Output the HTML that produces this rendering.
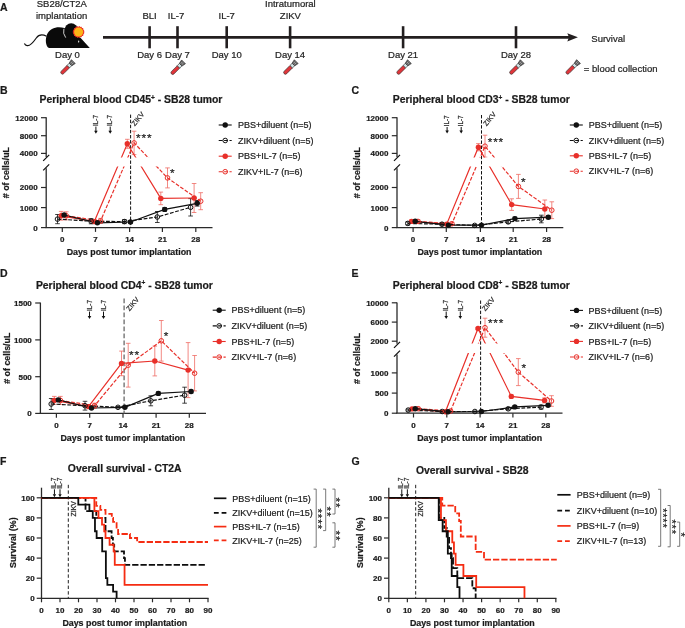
<!DOCTYPE html>
<html><head><meta charset="utf-8"><title>Figure</title>
<style>
html,body{margin:0;padding:0;background:#fff;}
svg{display:block;will-change:transform;}
text{font-family:"Liberation Sans", sans-serif;stroke:#222;stroke-width:0.22px;}
</style></head>
<body>
<svg width="685" height="628" viewBox="0 0 685 628" font-family='"Liberation Sans", sans-serif'>
<rect width="685" height="628" fill="#fff"/>
<line x1="103.00" y1="37.35" x2="569.00" y2="37.35" stroke="#231f20" stroke-width="2.7" />
<path d="M567.3,33.2 L577.9,37.35 L567.3,41.6 L569,37.35 Z" fill="#231f20"/>
<line x1="149.60" y1="26.20" x2="149.60" y2="48.30" stroke="#231f20" stroke-width="2.6" />
<text x="149.60" y="58.30" font-size="9.5" text-anchor="middle" fill="#262626" >Day 6</text>
<line x1="177.50" y1="26.20" x2="177.50" y2="48.30" stroke="#231f20" stroke-width="2.6" />
<text x="177.50" y="58.30" font-size="9.5" text-anchor="middle" fill="#262626" >Day 7</text>
<line x1="226.70" y1="26.20" x2="226.70" y2="48.30" stroke="#231f20" stroke-width="2.6" />
<text x="226.70" y="58.30" font-size="9.5" text-anchor="middle" fill="#262626" >Day 10</text>
<line x1="290.10" y1="26.20" x2="290.10" y2="48.30" stroke="#231f20" stroke-width="2.6" />
<text x="290.10" y="58.30" font-size="9.5" text-anchor="middle" fill="#262626" >Day 14</text>
<line x1="403.10" y1="26.20" x2="403.10" y2="48.30" stroke="#231f20" stroke-width="2.6" />
<text x="403.10" y="58.30" font-size="9.5" text-anchor="middle" fill="#262626" >Day 21</text>
<line x1="516.00" y1="26.20" x2="516.00" y2="48.30" stroke="#231f20" stroke-width="2.6" />
<text x="516.00" y="58.30" font-size="9.5" text-anchor="middle" fill="#262626" >Day 28</text>
<text x="67.50" y="58.30" font-size="9.5" text-anchor="middle" fill="#262626" >Day 0</text>
<text x="149.60" y="18.80" font-size="9.5" text-anchor="middle" fill="#262626" >BLI</text>
<text x="176.00" y="18.80" font-size="9.5" text-anchor="middle" fill="#262626" >IL-7</text>
<text x="226.70" y="18.80" font-size="9.5" text-anchor="middle" fill="#262626" >IL-7</text>
<text x="290.40" y="6.80" font-size="9.5" text-anchor="middle" fill="#262626" >Intratumoral</text>
<text x="290.40" y="18.60" font-size="9.5" text-anchor="middle" fill="#262626" >ZIKV</text>
<text x="61.80" y="7.20" font-size="9.5" text-anchor="middle" fill="#262626" >SB28/CT2A</text>
<text x="61.60" y="18.60" font-size="9.5" text-anchor="middle" fill="#262626" >implantation</text>
<text x="591.30" y="41.60" font-size="9.5" text-anchor="start" fill="#262626" >Survival</text>
<text x="583.80" y="71.60" font-size="9.5" text-anchor="start" fill="#262626" >= blood collection</text>
<g transform="translate(67.40,67.50) rotate(45)"><path d="M-1.75,-1.3 L-1.75,6.9 A1.75,1.75 0 0 0 1.75,6.9 L1.75,-1.3 Z" fill="#e0353a" stroke="#2a2a2a" stroke-width="0.6"/><rect x="-1.75" y="-4.4" width="3.5" height="3.1" fill="#d3e4e6" stroke="#2a2a2a" stroke-width="0.6"/><path d="M-1.9,-4.4 L-2.7,-8.4 L2.7,-8.4 L1.9,-4.4 Z" fill="#5e5e5e" stroke="#2a2a2a" stroke-width="0.6"/><line x1="-0.8" y1="-7.7" x2="-0.7" y2="-5.1" stroke="#cfcfcf" stroke-width="0.6"/><line x1="0.8" y1="-7.7" x2="0.7" y2="-5.1" stroke="#cfcfcf" stroke-width="0.6"/></g>
<g transform="translate(177.60,67.80) rotate(45)"><path d="M-1.75,-1.3 L-1.75,6.9 A1.75,1.75 0 0 0 1.75,6.9 L1.75,-1.3 Z" fill="#e0353a" stroke="#2a2a2a" stroke-width="0.6"/><rect x="-1.75" y="-4.4" width="3.5" height="3.1" fill="#d3e4e6" stroke="#2a2a2a" stroke-width="0.6"/><path d="M-1.9,-4.4 L-2.7,-8.4 L2.7,-8.4 L1.9,-4.4 Z" fill="#5e5e5e" stroke="#2a2a2a" stroke-width="0.6"/><line x1="-0.8" y1="-7.7" x2="-0.7" y2="-5.1" stroke="#cfcfcf" stroke-width="0.6"/><line x1="0.8" y1="-7.7" x2="0.7" y2="-5.1" stroke="#cfcfcf" stroke-width="0.6"/></g>
<g transform="translate(290.30,67.60) rotate(45)"><path d="M-1.75,-1.3 L-1.75,6.9 A1.75,1.75 0 0 0 1.75,6.9 L1.75,-1.3 Z" fill="#e0353a" stroke="#2a2a2a" stroke-width="0.6"/><rect x="-1.75" y="-4.4" width="3.5" height="3.1" fill="#d3e4e6" stroke="#2a2a2a" stroke-width="0.6"/><path d="M-1.9,-4.4 L-2.7,-8.4 L2.7,-8.4 L1.9,-4.4 Z" fill="#5e5e5e" stroke="#2a2a2a" stroke-width="0.6"/><line x1="-0.8" y1="-7.7" x2="-0.7" y2="-5.1" stroke="#cfcfcf" stroke-width="0.6"/><line x1="0.8" y1="-7.7" x2="0.7" y2="-5.1" stroke="#cfcfcf" stroke-width="0.6"/></g>
<g transform="translate(403.50,67.60) rotate(45)"><path d="M-1.75,-1.3 L-1.75,6.9 A1.75,1.75 0 0 0 1.75,6.9 L1.75,-1.3 Z" fill="#e0353a" stroke="#2a2a2a" stroke-width="0.6"/><rect x="-1.75" y="-4.4" width="3.5" height="3.1" fill="#d3e4e6" stroke="#2a2a2a" stroke-width="0.6"/><path d="M-1.9,-4.4 L-2.7,-8.4 L2.7,-8.4 L1.9,-4.4 Z" fill="#5e5e5e" stroke="#2a2a2a" stroke-width="0.6"/><line x1="-0.8" y1="-7.7" x2="-0.7" y2="-5.1" stroke="#cfcfcf" stroke-width="0.6"/><line x1="0.8" y1="-7.7" x2="0.7" y2="-5.1" stroke="#cfcfcf" stroke-width="0.6"/></g>
<g transform="translate(516.30,67.60) rotate(45)"><path d="M-1.75,-1.3 L-1.75,6.9 A1.75,1.75 0 0 0 1.75,6.9 L1.75,-1.3 Z" fill="#e0353a" stroke="#2a2a2a" stroke-width="0.6"/><rect x="-1.75" y="-4.4" width="3.5" height="3.1" fill="#d3e4e6" stroke="#2a2a2a" stroke-width="0.6"/><path d="M-1.9,-4.4 L-2.7,-8.4 L2.7,-8.4 L1.9,-4.4 Z" fill="#5e5e5e" stroke="#2a2a2a" stroke-width="0.6"/><line x1="-0.8" y1="-7.7" x2="-0.7" y2="-5.1" stroke="#cfcfcf" stroke-width="0.6"/><line x1="0.8" y1="-7.7" x2="0.7" y2="-5.1" stroke="#cfcfcf" stroke-width="0.6"/></g>
<g transform="translate(572.60,67.50) rotate(45)"><path d="M-1.75,-1.3 L-1.75,6.9 A1.75,1.75 0 0 0 1.75,6.9 L1.75,-1.3 Z" fill="#e0353a" stroke="#2a2a2a" stroke-width="0.6"/><rect x="-1.75" y="-4.4" width="3.5" height="3.1" fill="#d3e4e6" stroke="#2a2a2a" stroke-width="0.6"/><path d="M-1.9,-4.4 L-2.7,-8.4 L2.7,-8.4 L1.9,-4.4 Z" fill="#5e5e5e" stroke="#2a2a2a" stroke-width="0.6"/><line x1="-0.8" y1="-7.7" x2="-0.7" y2="-5.1" stroke="#cfcfcf" stroke-width="0.6"/><line x1="0.8" y1="-7.7" x2="0.7" y2="-5.1" stroke="#cfcfcf" stroke-width="0.6"/></g>
<path d="M46.5,36.3 C42.5,34.2 38.8,34.6 36.3,38 C33.3,42.3 30.5,46.2 27.2,45.6 C25.8,45.3 25,44.6 24.4,43.4" fill="none" stroke="#111" stroke-width="1.2"/>
<path d="M49,48.1 C45.6,46.5 45,39.5 47,34.6 C49.3,29.5 54,27.3 59,27.3 C63,27.3 66,28.4 68.5,30.2 L80,37.2 L89.8,47.9 Z" fill="#0a0a0a"/>
<circle cx="71.2" cy="29.9" r="6.6" fill="#0a0a0a"/>
<path d="M63.9,28.8 Q62.6,33.6 65.7,37.6" fill="none" stroke="#fff" stroke-width="0.8"/>
<ellipse cx="78.7" cy="41.6" rx="0.55" ry="1.1" fill="#fff"/>
<polygon points="84.70,32.00 83.72,32.90 84.33,34.09 83.10,34.60 83.27,35.92 81.94,35.98 81.65,37.28 80.38,36.89 79.66,38.01 78.60,37.20 77.54,38.01 76.82,36.89 75.55,37.28 75.26,35.98 73.93,35.92 74.10,34.60 72.87,34.09 73.48,32.90 72.50,32.00 73.48,31.10 72.87,29.91 74.10,29.40 73.93,28.08 75.26,28.02 75.55,26.72 76.82,27.11 77.54,25.99 78.60,26.80 79.66,25.99 80.38,27.11 81.65,26.72 81.94,28.02 83.27,28.08 83.10,29.40 84.33,29.91 83.72,31.10" fill="#ee3124"/>
<circle cx="78.6" cy="32.0" r="4.5" fill="#fbb516"/>
<text x="0.00" y="11.40" font-size="10.5" font-weight="bold" text-anchor="start" fill="#1a1a1a" >A</text>
<text x="0.00" y="94.00" font-size="10.5" font-weight="bold" text-anchor="start" fill="#1a1a1a" >B</text>
<text x="351.40" y="94.00" font-size="10.5" font-weight="bold" text-anchor="start" fill="#1a1a1a" >C</text>
<text x="0.00" y="276.60" font-size="10.5" font-weight="bold" text-anchor="start" fill="#1a1a1a" >D</text>
<text x="351.40" y="276.60" font-size="10.5" font-weight="bold" text-anchor="start" fill="#1a1a1a" >E</text>
<text x="0.00" y="464.90" font-size="10.5" font-weight="bold" text-anchor="start" fill="#1a1a1a" >F</text>
<text x="351.40" y="464.90" font-size="10.5" font-weight="bold" text-anchor="start" fill="#1a1a1a" >G</text>
<text x="39.60" y="103.10" font-size="10.4" font-weight="bold" fill="#1a1a1a">Peripheral blood CD45<tspan font-size="6.5" dy="-3.6">+</tspan><tspan dy="3.6"> - SB28 tumor</tspan></text>
<line x1="46.20" y1="117.30" x2="46.20" y2="156.90" stroke="#2a2a2a" stroke-width="1.3" />
<line x1="46.20" y1="168.30" x2="46.20" y2="227.60" stroke="#2a2a2a" stroke-width="1.3" />
<line x1="41.00" y1="117.70" x2="46.20" y2="117.70" stroke="#2a2a2a" stroke-width="1.2" />
<text x="37.60" y="120.60" font-size="8" font-weight="bold" text-anchor="end" fill="#1a1a1a" >12000</text>
<line x1="41.00" y1="135.70" x2="46.20" y2="135.70" stroke="#2a2a2a" stroke-width="1.2" />
<text x="37.60" y="138.60" font-size="8" font-weight="bold" text-anchor="end" fill="#1a1a1a" >8000</text>
<line x1="41.00" y1="153.40" x2="46.20" y2="153.40" stroke="#2a2a2a" stroke-width="1.2" />
<text x="37.60" y="156.30" font-size="8" font-weight="bold" text-anchor="end" fill="#1a1a1a" >4000</text>
<line x1="41.00" y1="187.50" x2="46.20" y2="187.50" stroke="#2a2a2a" stroke-width="1.2" />
<text x="37.60" y="190.40" font-size="8" font-weight="bold" text-anchor="end" fill="#1a1a1a" >2000</text>
<line x1="41.00" y1="207.60" x2="46.20" y2="207.60" stroke="#2a2a2a" stroke-width="1.2" />
<text x="37.60" y="210.50" font-size="8" font-weight="bold" text-anchor="end" fill="#1a1a1a" >1000</text>
<line x1="41.00" y1="227.60" x2="46.20" y2="227.60" stroke="#2a2a2a" stroke-width="1.2" />
<text x="37.60" y="230.50" font-size="8" font-weight="bold" text-anchor="end" fill="#1a1a1a" >0</text>
<line x1="43.20" y1="160.80" x2="49.20" y2="154.80" stroke="#111" stroke-width="1.2" />
<line x1="43.20" y1="170.30" x2="49.20" y2="164.30" stroke="#111" stroke-width="1.2" />
<line x1="45.55" y1="227.60" x2="212.50" y2="227.60" stroke="#2a2a2a" stroke-width="1.3" />
<line x1="62.30" y1="227.60" x2="62.30" y2="231.90" stroke="#2a2a2a" stroke-width="1.2" />
<text x="62.30" y="241.90" font-size="8" font-weight="bold" text-anchor="middle" fill="#1a1a1a" >0</text>
<line x1="95.50" y1="227.60" x2="95.50" y2="231.90" stroke="#2a2a2a" stroke-width="1.2" />
<text x="95.50" y="241.90" font-size="8" font-weight="bold" text-anchor="middle" fill="#1a1a1a" >7</text>
<line x1="129.60" y1="227.60" x2="129.60" y2="231.90" stroke="#2a2a2a" stroke-width="1.2" />
<text x="129.60" y="241.90" font-size="8" font-weight="bold" text-anchor="middle" fill="#1a1a1a" >14</text>
<line x1="162.40" y1="227.60" x2="162.40" y2="231.90" stroke="#2a2a2a" stroke-width="1.2" />
<text x="162.40" y="241.90" font-size="8" font-weight="bold" text-anchor="middle" fill="#1a1a1a" >21</text>
<line x1="195.80" y1="227.60" x2="195.80" y2="231.90" stroke="#2a2a2a" stroke-width="1.2" />
<text x="195.80" y="241.90" font-size="8" font-weight="bold" text-anchor="middle" fill="#1a1a1a" >28</text>
<text x="129.05" y="255.10" font-size="8.85" font-weight="bold" text-anchor="middle" fill="#1a1a1a" >Days post tumor implantation</text>
<text transform="translate(9.40,172.60) rotate(-90)" font-size="8.85" font-weight="bold" text-anchor="middle" fill="#1a1a1a"># of cells/uL</text>
<text transform="translate(98.10,126.00) rotate(-90)" font-size="6.4" text-anchor="start" fill="#222">IL-7</text>
<line x1="95.90" y1="126.60" x2="95.90" y2="131.30" stroke="#111" stroke-width="1.0" />
<path d="M94.10,130.80 L97.70,130.80 L95.90,133.80 Z" fill="#111"/>
<text transform="translate(112.40,126.00) rotate(-90)" font-size="6.4" text-anchor="start" fill="#222">IL-7</text>
<line x1="110.20" y1="126.60" x2="110.20" y2="131.30" stroke="#111" stroke-width="1.0" />
<path d="M108.40,130.80 L112.00,130.80 L110.20,133.80 Z" fill="#111"/>
<line x1="130.60" y1="114.60" x2="130.60" y2="227.60" stroke="#111" stroke-width="1.0" stroke-dasharray="3.4,1.7"/>
<text transform="translate(134.80,126.40) rotate(-50)" font-size="7.0" text-anchor="start" fill="#333">ZIKV</text>
<clipPath id="cB"><rect x="46.2" y="100" width="186.3" height="57.400000000000006"/><rect x="46.2" y="166.6" width="186.3" height="73.4"/></clipPath>
<g clip-path="url(#cB)">
<path d="M61.20,211.40 V220.20 M58.90,211.40 H63.50 M58.90,220.20 H63.50" stroke="#ef6b63" stroke-width="0.8" fill="none"/>
<path d="M94.30,219.60 V223.60 M92.00,219.60 H96.60 M92.00,223.60 H96.60" stroke="#ef6b63" stroke-width="0.8" fill="none"/>
<path d="M127.30,139.30 V148.30 M125.00,139.30 H129.60 M125.00,148.30 H129.60" stroke="#ef6b63" stroke-width="0.8" fill="none"/>
<path d="M160.80,192.10 V204.70 M158.50,192.10 H163.10 M158.50,204.70 H163.10" stroke="#ef6b63" stroke-width="0.8" fill="none"/>
<path d="M194.10,183.50 V212.50 M191.80,183.50 H196.40 M191.80,212.50 H196.40" stroke="#ef6b63" stroke-width="0.8" fill="none"/>
<path d="M66.30,211.80 V219.80 M64.00,211.80 H68.60 M64.00,219.80 H68.60" stroke="#ef6b63" stroke-width="0.8" fill="none"/>
<path d="M100.60,218.40 V223.40 M98.30,218.40 H102.90 M98.30,223.40 H102.90" stroke="#ef6b63" stroke-width="0.8" fill="none"/>
<path d="M134.10,131.20 V154.60 M131.80,131.20 H136.40 M131.80,154.60 H136.40" stroke="#ef6b63" stroke-width="0.8" fill="none"/>
<path d="M167.50,167.90 V187.90 M165.20,167.90 H169.80 M165.20,187.90 H169.80" stroke="#ef6b63" stroke-width="0.8" fill="none"/>
<path d="M200.70,192.70 V209.70 M198.40,192.70 H203.00 M198.40,209.70 H203.00" stroke="#ef6b63" stroke-width="0.8" fill="none"/>
<path d="M57.50,214.50 V223.70 M55.20,214.50 H59.80 M55.20,223.70 H59.80" stroke="#111" stroke-width="0.8" fill="none"/>
<path d="M91.10,218.60 V223.80 M88.80,218.60 H93.40 M88.80,223.80 H93.40" stroke="#111" stroke-width="0.8" fill="none"/>
<path d="M124.40,219.60 V223.60 M122.10,219.60 H126.70 M122.10,223.60 H126.70" stroke="#111" stroke-width="0.8" fill="none"/>
<path d="M157.30,211.50 V222.50 M155.00,211.50 H159.60 M155.00,222.50 H159.60" stroke="#111" stroke-width="0.8" fill="none"/>
<path d="M190.60,198.60 V216.00 M188.30,198.60 H192.90 M188.30,216.00 H192.90" stroke="#111" stroke-width="0.8" fill="none"/>
<path d="M64.10,213.80 V216.20 M61.80,213.80 H66.40 M61.80,216.20 H66.40" stroke="#111" stroke-width="0.8" fill="none"/>
<path d="M97.40,222.00 V223.60 M95.10,222.00 H99.70 M95.10,223.60 H99.70" stroke="#111" stroke-width="0.8" fill="none"/>
<path d="M130.50,220.80 V223.20 M128.20,220.80 H132.80 M128.20,223.20 H132.80" stroke="#111" stroke-width="0.8" fill="none"/>
<path d="M164.70,207.60 V211.20 M162.40,207.60 H167.00 M162.40,211.20 H167.00" stroke="#111" stroke-width="0.8" fill="none"/>
<path d="M197.20,200.50 V206.10 M194.90,200.50 H199.50 M194.90,206.10 H199.50" stroke="#111" stroke-width="0.8" fill="none"/>
<path d="M66.30,215.80 L100.60,220.90 L134.10,142.90 L167.50,177.90 L200.70,201.20" fill="none" stroke="#e8302a" stroke-width="1.2" stroke-dasharray="3.8,1.6"/>
<path d="M61.20,215.80 L94.30,221.60 L127.30,143.80 L160.80,198.40 L194.10,198.00" fill="none" stroke="#e8302a" stroke-width="1.2"/>
<path d="M57.50,219.10 L91.10,221.20 L124.40,221.60 L157.30,217.00 L190.60,207.30" fill="none" stroke="#111" stroke-width="1.2" stroke-dasharray="3.8,1.6"/>
<path d="M64.10,215.00 L97.40,222.80 L130.50,222.00 L164.70,209.40 L197.20,203.30" fill="none" stroke="#111" stroke-width="1.2"/>
</g>
<circle cx="66.30" cy="215.80" r="2.3" fill="none" stroke="#e8302a" stroke-width="1.0"/>
<circle cx="100.60" cy="220.90" r="2.3" fill="none" stroke="#e8302a" stroke-width="1.0"/>
<circle cx="134.10" cy="142.90" r="2.3" fill="none" stroke="#e8302a" stroke-width="1.0"/>
<circle cx="167.50" cy="177.90" r="2.3" fill="none" stroke="#e8302a" stroke-width="1.0"/>
<circle cx="200.70" cy="201.20" r="2.3" fill="none" stroke="#e8302a" stroke-width="1.0"/>
<circle cx="61.20" cy="215.80" r="2.7" fill="#e8302a"/>
<circle cx="94.30" cy="221.60" r="2.7" fill="#e8302a"/>
<circle cx="127.30" cy="143.80" r="2.7" fill="#e8302a"/>
<circle cx="160.80" cy="198.40" r="2.7" fill="#e8302a"/>
<circle cx="194.10" cy="198.00" r="2.7" fill="#e8302a"/>
<circle cx="57.50" cy="219.10" r="2.3" fill="none" stroke="#111" stroke-width="1.0"/>
<circle cx="91.10" cy="221.20" r="2.3" fill="none" stroke="#111" stroke-width="1.0"/>
<circle cx="124.40" cy="221.60" r="2.3" fill="none" stroke="#111" stroke-width="1.0"/>
<circle cx="157.30" cy="217.00" r="2.3" fill="none" stroke="#111" stroke-width="1.0"/>
<circle cx="190.60" cy="207.30" r="2.3" fill="none" stroke="#111" stroke-width="1.0"/>
<circle cx="64.10" cy="215.00" r="2.7" fill="#111"/>
<circle cx="97.40" cy="222.80" r="2.7" fill="#111"/>
<circle cx="130.50" cy="222.00" r="2.7" fill="#111"/>
<circle cx="164.70" cy="209.40" r="2.7" fill="#111"/>
<circle cx="197.20" cy="203.30" r="2.7" fill="#111"/>
<text x="136.10" y="141.90" font-size="11.8" letter-spacing="0.8" fill="#1a1a1a">***</text>
<text x="170.10" y="177.00" font-size="11.8" letter-spacing="0.8" fill="#1a1a1a">*</text>
<line x1="218.70" y1="125.00" x2="231.70" y2="125.00" stroke="#111" stroke-width="1.1" />
<circle cx="225.20" cy="125.00" r="2.7" fill="#111"/>
<text x="238.00" y="128.20" font-size="9" text-anchor="start" fill="#1a1a1a" >PBS+diluent (n=5)</text>
<line x1="218.70" y1="140.50" x2="231.70" y2="140.50" stroke="#111" stroke-width="1.1" stroke-dasharray="3.8,1.6"/>
<circle cx="225.20" cy="140.50" r="2.3" fill="none" stroke="#111" stroke-width="1.0"/>
<text x="238.00" y="143.70" font-size="9" text-anchor="start" fill="#1a1a1a" >ZIKV+diluent (n=5)</text>
<line x1="218.70" y1="156.20" x2="231.70" y2="156.20" stroke="#e8302a" stroke-width="1.1" />
<circle cx="225.20" cy="156.20" r="2.7" fill="#e8302a"/>
<text x="238.00" y="159.40" font-size="9" text-anchor="start" fill="#1a1a1a" >PBS+IL-7 (n=5)</text>
<line x1="218.70" y1="171.70" x2="231.70" y2="171.70" stroke="#e8302a" stroke-width="1.1" stroke-dasharray="3.8,1.6"/>
<circle cx="225.20" cy="171.70" r="2.3" fill="none" stroke="#e8302a" stroke-width="1.0"/>
<text x="238.00" y="174.90" font-size="9" text-anchor="start" fill="#1a1a1a" >ZIKV+IL-7 (n=6)</text>
<text x="392.80" y="103.10" font-size="10.4" font-weight="bold" fill="#1a1a1a">Peripheral blood CD3<tspan font-size="6.5" dy="-3.6">+</tspan><tspan dy="3.6"> - SB28 tumor</tspan></text>
<line x1="397.00" y1="117.30" x2="397.00" y2="156.90" stroke="#2a2a2a" stroke-width="1.3" />
<line x1="397.00" y1="168.30" x2="397.00" y2="227.60" stroke="#2a2a2a" stroke-width="1.3" />
<line x1="391.80" y1="117.70" x2="397.00" y2="117.70" stroke="#2a2a2a" stroke-width="1.2" />
<text x="388.40" y="120.60" font-size="8" font-weight="bold" text-anchor="end" fill="#1a1a1a" >12000</text>
<line x1="391.80" y1="135.70" x2="397.00" y2="135.70" stroke="#2a2a2a" stroke-width="1.2" />
<text x="388.40" y="138.60" font-size="8" font-weight="bold" text-anchor="end" fill="#1a1a1a" >8000</text>
<line x1="391.80" y1="153.40" x2="397.00" y2="153.40" stroke="#2a2a2a" stroke-width="1.2" />
<text x="388.40" y="156.30" font-size="8" font-weight="bold" text-anchor="end" fill="#1a1a1a" >4000</text>
<line x1="391.80" y1="187.50" x2="397.00" y2="187.50" stroke="#2a2a2a" stroke-width="1.2" />
<text x="388.40" y="190.40" font-size="8" font-weight="bold" text-anchor="end" fill="#1a1a1a" >2000</text>
<line x1="391.80" y1="207.60" x2="397.00" y2="207.60" stroke="#2a2a2a" stroke-width="1.2" />
<text x="388.40" y="210.50" font-size="8" font-weight="bold" text-anchor="end" fill="#1a1a1a" >1000</text>
<line x1="391.80" y1="227.60" x2="397.00" y2="227.60" stroke="#2a2a2a" stroke-width="1.2" />
<text x="388.40" y="230.50" font-size="8" font-weight="bold" text-anchor="end" fill="#1a1a1a" >0</text>
<line x1="394.00" y1="160.80" x2="400.00" y2="154.80" stroke="#111" stroke-width="1.2" />
<line x1="394.00" y1="170.30" x2="400.00" y2="164.30" stroke="#111" stroke-width="1.2" />
<line x1="396.35" y1="227.60" x2="563.30" y2="227.60" stroke="#2a2a2a" stroke-width="1.3" />
<line x1="413.10" y1="227.60" x2="413.10" y2="231.90" stroke="#2a2a2a" stroke-width="1.2" />
<text x="413.10" y="241.90" font-size="8" font-weight="bold" text-anchor="middle" fill="#1a1a1a" >0</text>
<line x1="446.30" y1="227.60" x2="446.30" y2="231.90" stroke="#2a2a2a" stroke-width="1.2" />
<text x="446.30" y="241.90" font-size="8" font-weight="bold" text-anchor="middle" fill="#1a1a1a" >7</text>
<line x1="480.40" y1="227.60" x2="480.40" y2="231.90" stroke="#2a2a2a" stroke-width="1.2" />
<text x="480.40" y="241.90" font-size="8" font-weight="bold" text-anchor="middle" fill="#1a1a1a" >14</text>
<line x1="513.20" y1="227.60" x2="513.20" y2="231.90" stroke="#2a2a2a" stroke-width="1.2" />
<text x="513.20" y="241.90" font-size="8" font-weight="bold" text-anchor="middle" fill="#1a1a1a" >21</text>
<line x1="546.60" y1="227.60" x2="546.60" y2="231.90" stroke="#2a2a2a" stroke-width="1.2" />
<text x="546.60" y="241.90" font-size="8" font-weight="bold" text-anchor="middle" fill="#1a1a1a" >28</text>
<text x="479.85" y="255.10" font-size="8.85" font-weight="bold" text-anchor="middle" fill="#1a1a1a" >Days post tumor implantation</text>
<text transform="translate(360.20,172.60) rotate(-90)" font-size="8.85" font-weight="bold" text-anchor="middle" fill="#1a1a1a"># of cells/uL</text>
<text transform="translate(449.30,126.40) rotate(-90)" font-size="6.4" text-anchor="start" fill="#222">IL-7</text>
<line x1="447.10" y1="127.00" x2="447.10" y2="131.10" stroke="#111" stroke-width="1.0" />
<path d="M445.30,130.60 L448.90,130.60 L447.10,133.60 Z" fill="#111"/>
<text transform="translate(463.40,126.40) rotate(-90)" font-size="6.4" text-anchor="start" fill="#222">IL-7</text>
<line x1="461.20" y1="127.00" x2="461.20" y2="131.10" stroke="#111" stroke-width="1.0" />
<path d="M459.40,130.60 L463.00,130.60 L461.20,133.60 Z" fill="#111"/>
<line x1="481.50" y1="115.00" x2="481.50" y2="227.60" stroke="#111" stroke-width="1.0" stroke-dasharray="3.4,1.7"/>
<text transform="translate(486.60,126.40) rotate(-50)" font-size="7.0" text-anchor="start" fill="#333">ZIKV</text>
<clipPath id="cC"><rect x="397.0" y="100" width="186.29999999999995" height="57.400000000000006"/><rect x="397.0" y="166.6" width="186.29999999999995" height="73.4"/></clipPath>
<g clip-path="url(#cC)">
<path d="M411.50,219.90 V222.90 M409.20,219.90 H413.80 M409.20,222.90 H413.80" stroke="#ef6b63" stroke-width="0.8" fill="none"/>
<path d="M446.70,223.20 V225.20 M444.40,223.20 H449.00 M444.40,225.20 H449.00" stroke="#ef6b63" stroke-width="0.8" fill="none"/>
<path d="M478.40,143.60 V150.80 M476.10,143.60 H480.70 M476.10,150.80 H480.70" stroke="#ef6b63" stroke-width="0.8" fill="none"/>
<path d="M511.70,198.80 V210.40 M509.40,198.80 H514.00 M509.40,210.40 H514.00" stroke="#ef6b63" stroke-width="0.8" fill="none"/>
<path d="M544.80,200.00 V218.00 M542.50,200.00 H547.10 M542.50,218.00 H547.10" stroke="#ef6b63" stroke-width="0.8" fill="none"/>
<path d="M418.00,219.90 V222.90 M415.70,219.90 H420.30 M415.70,222.90 H420.30" stroke="#ef6b63" stroke-width="0.8" fill="none"/>
<path d="M451.90,222.20 V225.20 M449.60,222.20 H454.20 M449.60,225.20 H454.20" stroke="#ef6b63" stroke-width="0.8" fill="none"/>
<path d="M485.00,135.20 V157.20 M482.70,135.20 H487.30 M482.70,157.20 H487.30" stroke="#ef6b63" stroke-width="0.8" fill="none"/>
<path d="M518.40,174.40 V198.40 M516.10,174.40 H520.70 M516.10,198.40 H520.70" stroke="#ef6b63" stroke-width="0.8" fill="none"/>
<path d="M551.80,201.80 V218.60 M549.50,201.80 H554.10 M549.50,218.60 H554.10" stroke="#ef6b63" stroke-width="0.8" fill="none"/>
<path d="M407.80,221.90 V224.90 M405.50,221.90 H410.10 M405.50,224.90 H410.10" stroke="#111" stroke-width="0.8" fill="none"/>
<path d="M442.00,222.70 V225.70 M439.70,222.70 H444.30 M439.70,225.70 H444.30" stroke="#111" stroke-width="0.8" fill="none"/>
<path d="M474.70,224.60 V226.20 M472.40,224.60 H477.00 M472.40,226.20 H477.00" stroke="#111" stroke-width="0.8" fill="none"/>
<path d="M508.20,220.40 V223.40 M505.90,220.40 H510.50 M505.90,223.40 H510.50" stroke="#111" stroke-width="0.8" fill="none"/>
<path d="M541.30,215.20 V222.80 M539.00,215.20 H543.60 M539.00,222.80 H543.60" stroke="#111" stroke-width="0.8" fill="none"/>
<path d="M415.20,220.50 V222.10 M412.90,220.50 H417.50 M412.90,222.10 H417.50" stroke="#111" stroke-width="0.8" fill="none"/>
<path d="M448.40,224.50 V225.70 M446.10,224.50 H450.70 M446.10,225.70 H450.70" stroke="#111" stroke-width="0.8" fill="none"/>
<path d="M481.50,224.50 V225.70 M479.20,224.50 H483.80 M479.20,225.70 H483.80" stroke="#111" stroke-width="0.8" fill="none"/>
<path d="M514.90,217.10 V220.10 M512.60,217.10 H517.20 M512.60,220.10 H517.20" stroke="#111" stroke-width="0.8" fill="none"/>
<path d="M548.30,215.70 V218.70 M546.00,215.70 H550.60 M546.00,218.70 H550.60" stroke="#111" stroke-width="0.8" fill="none"/>
<path d="M418.00,221.40 L451.90,223.70 L485.00,146.20 L518.40,186.40 L551.80,210.20" fill="none" stroke="#e8302a" stroke-width="1.2" stroke-dasharray="3.8,1.6"/>
<path d="M411.50,221.40 L446.70,224.20 L478.40,147.20 L511.70,204.60 L544.80,209.00" fill="none" stroke="#e8302a" stroke-width="1.2"/>
<path d="M407.80,223.40 L442.00,224.20 L474.70,225.40 L508.20,221.90 L541.30,219.00" fill="none" stroke="#111" stroke-width="1.2" stroke-dasharray="3.8,1.6"/>
<path d="M415.20,221.30 L448.40,225.10 L481.50,225.10 L514.90,218.60 L548.30,217.20" fill="none" stroke="#111" stroke-width="1.2"/>
</g>
<circle cx="418.00" cy="221.40" r="2.3" fill="none" stroke="#e8302a" stroke-width="1.0"/>
<circle cx="451.90" cy="223.70" r="2.3" fill="none" stroke="#e8302a" stroke-width="1.0"/>
<circle cx="485.00" cy="146.20" r="2.3" fill="none" stroke="#e8302a" stroke-width="1.0"/>
<circle cx="518.40" cy="186.40" r="2.3" fill="none" stroke="#e8302a" stroke-width="1.0"/>
<circle cx="551.80" cy="210.20" r="2.3" fill="none" stroke="#e8302a" stroke-width="1.0"/>
<circle cx="411.50" cy="221.40" r="2.7" fill="#e8302a"/>
<circle cx="446.70" cy="224.20" r="2.7" fill="#e8302a"/>
<circle cx="478.40" cy="147.20" r="2.7" fill="#e8302a"/>
<circle cx="511.70" cy="204.60" r="2.7" fill="#e8302a"/>
<circle cx="544.80" cy="209.00" r="2.7" fill="#e8302a"/>
<circle cx="407.80" cy="223.40" r="2.3" fill="none" stroke="#111" stroke-width="1.0"/>
<circle cx="442.00" cy="224.20" r="2.3" fill="none" stroke="#111" stroke-width="1.0"/>
<circle cx="474.70" cy="225.40" r="2.3" fill="none" stroke="#111" stroke-width="1.0"/>
<circle cx="508.20" cy="221.90" r="2.3" fill="none" stroke="#111" stroke-width="1.0"/>
<circle cx="541.30" cy="219.00" r="2.3" fill="none" stroke="#111" stroke-width="1.0"/>
<circle cx="415.20" cy="221.30" r="2.7" fill="#111"/>
<circle cx="448.40" cy="225.10" r="2.7" fill="#111"/>
<circle cx="481.50" cy="225.10" r="2.7" fill="#111"/>
<circle cx="514.90" cy="218.60" r="2.7" fill="#111"/>
<circle cx="548.30" cy="217.20" r="2.7" fill="#111"/>
<text x="487.80" y="146.05" font-size="11.8" letter-spacing="0.8" fill="#1a1a1a">***</text>
<text x="520.90" y="185.70" font-size="11.8" letter-spacing="0.8" fill="#1a1a1a">*</text>
<line x1="569.80" y1="125.00" x2="582.80" y2="125.00" stroke="#111" stroke-width="1.1" />
<circle cx="576.30" cy="125.00" r="2.7" fill="#111"/>
<text x="588.70" y="128.20" font-size="9" text-anchor="start" fill="#1a1a1a" >PBS+diluent (n=5)</text>
<line x1="569.80" y1="140.50" x2="582.80" y2="140.50" stroke="#111" stroke-width="1.1" stroke-dasharray="3.8,1.6"/>
<circle cx="576.30" cy="140.50" r="2.3" fill="none" stroke="#111" stroke-width="1.0"/>
<text x="588.70" y="143.70" font-size="9" text-anchor="start" fill="#1a1a1a" >ZIKV+diluent (n=5)</text>
<line x1="569.80" y1="155.80" x2="582.80" y2="155.80" stroke="#e8302a" stroke-width="1.1" />
<circle cx="576.30" cy="155.80" r="2.7" fill="#e8302a"/>
<text x="588.70" y="159.00" font-size="9" text-anchor="start" fill="#1a1a1a" >PBS+IL-7 (n=5)</text>
<line x1="569.80" y1="171.20" x2="582.80" y2="171.20" stroke="#e8302a" stroke-width="1.1" stroke-dasharray="3.8,1.6"/>
<circle cx="576.30" cy="171.20" r="2.3" fill="none" stroke="#e8302a" stroke-width="1.0"/>
<text x="588.70" y="174.40" font-size="9" text-anchor="start" fill="#1a1a1a" >ZIKV+IL-7 (n=6)</text>
<text x="35.90" y="288.90" font-size="10.4" font-weight="bold" fill="#1a1a1a">Peripheral blood CD4<tspan font-size="6.5" dy="-3.6">+</tspan><tspan dy="3.6"> - SB28 tumor</tspan></text>
<line x1="40.40" y1="302.60" x2="40.40" y2="413.40" stroke="#2a2a2a" stroke-width="1.3" />
<line x1="35.20" y1="303.00" x2="40.40" y2="303.00" stroke="#2a2a2a" stroke-width="1.2" />
<text x="31.80" y="305.90" font-size="8" font-weight="bold" text-anchor="end" fill="#1a1a1a" >1500</text>
<line x1="35.20" y1="339.90" x2="40.40" y2="339.90" stroke="#2a2a2a" stroke-width="1.2" />
<text x="31.80" y="342.80" font-size="8" font-weight="bold" text-anchor="end" fill="#1a1a1a" >1000</text>
<line x1="35.20" y1="376.70" x2="40.40" y2="376.70" stroke="#2a2a2a" stroke-width="1.2" />
<text x="31.80" y="379.60" font-size="8" font-weight="bold" text-anchor="end" fill="#1a1a1a" >500</text>
<line x1="35.20" y1="413.40" x2="40.40" y2="413.40" stroke="#2a2a2a" stroke-width="1.2" />
<text x="31.80" y="416.30" font-size="8" font-weight="bold" text-anchor="end" fill="#1a1a1a" >0</text>
<line x1="39.75" y1="413.40" x2="206.00" y2="413.40" stroke="#2a2a2a" stroke-width="1.3" />
<line x1="56.40" y1="413.40" x2="56.40" y2="417.70" stroke="#2a2a2a" stroke-width="1.2" />
<text x="56.40" y="427.70" font-size="8" font-weight="bold" text-anchor="middle" fill="#1a1a1a" >0</text>
<line x1="89.70" y1="413.40" x2="89.70" y2="417.70" stroke="#2a2a2a" stroke-width="1.2" />
<text x="89.70" y="427.70" font-size="8" font-weight="bold" text-anchor="middle" fill="#1a1a1a" >7</text>
<line x1="123.00" y1="413.40" x2="123.00" y2="417.70" stroke="#2a2a2a" stroke-width="1.2" />
<text x="123.00" y="427.70" font-size="8" font-weight="bold" text-anchor="middle" fill="#1a1a1a" >14</text>
<line x1="156.10" y1="413.40" x2="156.10" y2="417.70" stroke="#2a2a2a" stroke-width="1.2" />
<text x="156.10" y="427.70" font-size="8" font-weight="bold" text-anchor="middle" fill="#1a1a1a" >21</text>
<line x1="189.30" y1="413.40" x2="189.30" y2="417.70" stroke="#2a2a2a" stroke-width="1.2" />
<text x="189.30" y="427.70" font-size="8" font-weight="bold" text-anchor="middle" fill="#1a1a1a" >28</text>
<text x="122.85" y="440.90" font-size="8.85" font-weight="bold" text-anchor="middle" fill="#1a1a1a" >Days post tumor implantation</text>
<text transform="translate(9.60,358.20) rotate(-90)" font-size="8.85" font-weight="bold" text-anchor="middle" fill="#1a1a1a"># of cells/uL</text>
<text transform="translate(91.70,311.00) rotate(-90)" font-size="6.4" text-anchor="start" fill="#222">IL-7</text>
<line x1="89.50" y1="311.60" x2="89.50" y2="316.40" stroke="#111" stroke-width="1.0" />
<path d="M87.70,315.90 L91.30,315.90 L89.50,318.90 Z" fill="#111"/>
<text transform="translate(105.70,311.00) rotate(-90)" font-size="6.4" text-anchor="start" fill="#222">IL-7</text>
<line x1="103.50" y1="311.60" x2="103.50" y2="316.40" stroke="#111" stroke-width="1.0" />
<path d="M101.70,315.90 L105.30,315.90 L103.50,318.90 Z" fill="#111"/>
<line x1="124.10" y1="298.60" x2="124.10" y2="413.40" stroke="#6a6a6a" stroke-width="1.3" stroke-dasharray="4.6,2.4"/>
<text transform="translate(129.60,311.60) rotate(-50)" font-size="7.0" text-anchor="start" fill="#333">ZIKV</text>
<g >
<path d="M54.30,396.40 V404.40 M52.00,396.40 H56.60 M52.00,404.40 H56.60" stroke="#ef6b63" stroke-width="0.8" fill="none"/>
<path d="M88.50,404.60 V408.60 M86.20,404.60 H90.80 M86.20,408.60 H90.80" stroke="#ef6b63" stroke-width="0.8" fill="none"/>
<path d="M121.50,351.10 V375.70 M119.20,351.10 H123.80 M119.20,375.70 H123.80" stroke="#ef6b63" stroke-width="0.8" fill="none"/>
<path d="M154.80,346.10 V375.90 M152.50,346.10 H157.10 M152.50,375.90 H157.10" stroke="#ef6b63" stroke-width="0.8" fill="none"/>
<path d="M188.10,342.60 V397.60 M185.80,342.60 H190.40 M185.80,397.60 H190.40" stroke="#ef6b63" stroke-width="0.8" fill="none"/>
<path d="M60.40,396.40 V404.40 M58.10,396.40 H62.70 M58.10,404.40 H62.70" stroke="#ef6b63" stroke-width="0.8" fill="none"/>
<path d="M94.60,403.20 V408.20 M92.30,403.20 H96.90 M92.30,408.20 H96.90" stroke="#ef6b63" stroke-width="0.8" fill="none"/>
<path d="M128.20,343.30 V387.10 M125.90,343.30 H130.50 M125.90,387.10 H130.50" stroke="#ef6b63" stroke-width="0.8" fill="none"/>
<path d="M161.30,320.50 V361.10 M159.00,320.50 H163.60 M159.00,361.10 H163.60" stroke="#ef6b63" stroke-width="0.8" fill="none"/>
<path d="M194.60,355.50 V390.90 M192.30,355.50 H196.90 M192.30,390.90 H196.90" stroke="#ef6b63" stroke-width="0.8" fill="none"/>
<path d="M51.20,398.50 V409.50 M48.90,398.50 H53.50 M48.90,409.50 H53.50" stroke="#111" stroke-width="0.8" fill="none"/>
<path d="M85.00,401.30 V410.10 M82.70,401.30 H87.30 M82.70,410.10 H87.30" stroke="#111" stroke-width="0.8" fill="none"/>
<path d="M118.00,406.50 V408.10 M115.70,406.50 H120.30 M115.70,408.10 H120.30" stroke="#111" stroke-width="0.8" fill="none"/>
<path d="M150.80,395.80 V405.80 M148.50,395.80 H153.10 M148.50,405.80 H153.10" stroke="#111" stroke-width="0.8" fill="none"/>
<path d="M184.60,387.20 V403.20 M182.30,387.20 H186.90 M182.30,403.20 H186.90" stroke="#111" stroke-width="0.8" fill="none"/>
<path d="M58.30,398.40 V401.40 M56.00,398.40 H60.60 M56.00,401.40 H60.60" stroke="#111" stroke-width="0.8" fill="none"/>
<path d="M91.50,407.20 V408.80 M89.20,407.20 H93.80 M89.20,408.80 H93.80" stroke="#111" stroke-width="0.8" fill="none"/>
<path d="M124.90,406.50 V408.10 M122.60,406.50 H127.20 M122.60,408.10 H127.20" stroke="#111" stroke-width="0.8" fill="none"/>
<path d="M158.30,391.90 V394.90 M156.00,391.90 H160.60 M156.00,394.90 H160.60" stroke="#111" stroke-width="0.8" fill="none"/>
<path d="M191.10,390.00 V393.00 M188.80,390.00 H193.40 M188.80,393.00 H193.40" stroke="#111" stroke-width="0.8" fill="none"/>
<path d="M60.40,400.40 L94.60,405.70 L128.20,365.20 L161.30,340.80 L194.60,373.20" fill="none" stroke="#e8302a" stroke-width="1.2" stroke-dasharray="3.8,1.6"/>
<path d="M54.30,400.40 L88.50,406.60 L121.50,363.40 L154.80,361.00 L188.10,370.10" fill="none" stroke="#e8302a" stroke-width="1.2"/>
<path d="M51.20,404.00 L85.00,405.70 L118.00,407.30 L150.80,400.80 L184.60,395.20" fill="none" stroke="#111" stroke-width="1.2" stroke-dasharray="3.8,1.6"/>
<path d="M58.30,399.90 L91.50,408.00 L124.90,407.30 L158.30,393.40 L191.10,391.50" fill="none" stroke="#111" stroke-width="1.2"/>
</g>
<circle cx="60.40" cy="400.40" r="2.3" fill="none" stroke="#e8302a" stroke-width="1.0"/>
<circle cx="94.60" cy="405.70" r="2.3" fill="none" stroke="#e8302a" stroke-width="1.0"/>
<circle cx="128.20" cy="365.20" r="2.3" fill="none" stroke="#e8302a" stroke-width="1.0"/>
<circle cx="161.30" cy="340.80" r="2.3" fill="none" stroke="#e8302a" stroke-width="1.0"/>
<circle cx="194.60" cy="373.20" r="2.3" fill="none" stroke="#e8302a" stroke-width="1.0"/>
<circle cx="54.30" cy="400.40" r="2.7" fill="#e8302a"/>
<circle cx="88.50" cy="406.60" r="2.7" fill="#e8302a"/>
<circle cx="121.50" cy="363.40" r="2.7" fill="#e8302a"/>
<circle cx="154.80" cy="361.00" r="2.7" fill="#e8302a"/>
<circle cx="188.10" cy="370.10" r="2.7" fill="#e8302a"/>
<circle cx="51.20" cy="404.00" r="2.3" fill="none" stroke="#111" stroke-width="1.0"/>
<circle cx="85.00" cy="405.70" r="2.3" fill="none" stroke="#111" stroke-width="1.0"/>
<circle cx="118.00" cy="407.30" r="2.3" fill="none" stroke="#111" stroke-width="1.0"/>
<circle cx="150.80" cy="400.80" r="2.3" fill="none" stroke="#111" stroke-width="1.0"/>
<circle cx="184.60" cy="395.20" r="2.3" fill="none" stroke="#111" stroke-width="1.0"/>
<circle cx="58.30" cy="399.90" r="2.7" fill="#111"/>
<circle cx="91.50" cy="408.00" r="2.7" fill="#111"/>
<circle cx="124.90" cy="407.30" r="2.7" fill="#111"/>
<circle cx="158.30" cy="393.40" r="2.7" fill="#111"/>
<circle cx="191.10" cy="391.50" r="2.7" fill="#111"/>
<text x="129.00" y="359.10" font-size="11.8" letter-spacing="0.8" fill="#1a1a1a">**</text>
<text x="163.80" y="340.30" font-size="11.8" letter-spacing="0.8" fill="#1a1a1a">*</text>
<line x1="212.70" y1="310.20" x2="225.70" y2="310.20" stroke="#111" stroke-width="1.1" />
<circle cx="219.20" cy="310.20" r="2.7" fill="#111"/>
<text x="231.60" y="313.40" font-size="9" text-anchor="start" fill="#1a1a1a" >PBS+diluent (n=5)</text>
<line x1="212.70" y1="325.90" x2="225.70" y2="325.90" stroke="#111" stroke-width="1.1" stroke-dasharray="3.8,1.6"/>
<circle cx="219.20" cy="325.90" r="2.3" fill="none" stroke="#111" stroke-width="1.0"/>
<text x="231.60" y="329.10" font-size="9" text-anchor="start" fill="#1a1a1a" >ZIKV+diluent (n=5)</text>
<line x1="212.70" y1="341.50" x2="225.70" y2="341.50" stroke="#e8302a" stroke-width="1.1" />
<circle cx="219.20" cy="341.50" r="2.7" fill="#e8302a"/>
<text x="231.60" y="344.70" font-size="9" text-anchor="start" fill="#1a1a1a" >PBS+IL-7 (n=5)</text>
<line x1="212.70" y1="357.10" x2="225.70" y2="357.10" stroke="#e8302a" stroke-width="1.1" stroke-dasharray="3.8,1.6"/>
<circle cx="219.20" cy="357.10" r="2.3" fill="none" stroke="#e8302a" stroke-width="1.0"/>
<text x="231.60" y="360.30" font-size="9" text-anchor="start" fill="#1a1a1a" >ZIKV+IL-7 (n=6)</text>
<text x="392.80" y="288.90" font-size="10.4" font-weight="bold" fill="#1a1a1a">Peripheral blood CD8<tspan font-size="6.5" dy="-3.6">+</tspan><tspan dy="3.6"> - SB28 tumor</tspan></text>
<line x1="397.00" y1="302.60" x2="397.00" y2="343.80" stroke="#2a2a2a" stroke-width="1.3" />
<line x1="397.00" y1="354.60" x2="397.00" y2="413.20" stroke="#2a2a2a" stroke-width="1.3" />
<line x1="391.80" y1="302.80" x2="397.00" y2="302.80" stroke="#2a2a2a" stroke-width="1.2" />
<text x="388.40" y="305.70" font-size="8" font-weight="bold" text-anchor="end" fill="#1a1a1a" >10000</text>
<line x1="391.80" y1="322.10" x2="397.00" y2="322.10" stroke="#2a2a2a" stroke-width="1.2" />
<text x="388.40" y="325.00" font-size="8" font-weight="bold" text-anchor="end" fill="#1a1a1a" >6000</text>
<line x1="391.80" y1="341.20" x2="397.00" y2="341.20" stroke="#2a2a2a" stroke-width="1.2" />
<text x="388.40" y="344.10" font-size="8" font-weight="bold" text-anchor="end" fill="#1a1a1a" >2000</text>
<line x1="391.80" y1="372.90" x2="397.00" y2="372.90" stroke="#2a2a2a" stroke-width="1.2" />
<text x="388.40" y="375.80" font-size="8" font-weight="bold" text-anchor="end" fill="#1a1a1a" >1000</text>
<line x1="391.80" y1="393.10" x2="397.00" y2="393.10" stroke="#2a2a2a" stroke-width="1.2" />
<text x="388.40" y="396.00" font-size="8" font-weight="bold" text-anchor="end" fill="#1a1a1a" >500</text>
<line x1="391.80" y1="413.20" x2="397.00" y2="413.20" stroke="#2a2a2a" stroke-width="1.2" />
<text x="388.40" y="416.10" font-size="8" font-weight="bold" text-anchor="end" fill="#1a1a1a" >0</text>
<line x1="394.00" y1="347.80" x2="400.00" y2="341.80" stroke="#111" stroke-width="1.2" />
<line x1="394.00" y1="356.60" x2="400.00" y2="350.60" stroke="#111" stroke-width="1.2" />
<line x1="396.35" y1="413.20" x2="562.50" y2="413.20" stroke="#2a2a2a" stroke-width="1.3" />
<line x1="413.50" y1="413.20" x2="413.50" y2="417.50" stroke="#2a2a2a" stroke-width="1.2" />
<text x="413.50" y="427.50" font-size="8" font-weight="bold" text-anchor="middle" fill="#1a1a1a" >0</text>
<line x1="446.80" y1="413.20" x2="446.80" y2="417.50" stroke="#2a2a2a" stroke-width="1.2" />
<text x="446.80" y="427.50" font-size="8" font-weight="bold" text-anchor="middle" fill="#1a1a1a" >7</text>
<line x1="480.10" y1="413.20" x2="480.10" y2="417.50" stroke="#2a2a2a" stroke-width="1.2" />
<text x="480.10" y="427.50" font-size="8" font-weight="bold" text-anchor="middle" fill="#1a1a1a" >14</text>
<line x1="512.90" y1="413.20" x2="512.90" y2="417.50" stroke="#2a2a2a" stroke-width="1.2" />
<text x="512.90" y="427.50" font-size="8" font-weight="bold" text-anchor="middle" fill="#1a1a1a" >21</text>
<line x1="545.80" y1="413.20" x2="545.80" y2="417.50" stroke="#2a2a2a" stroke-width="1.2" />
<text x="545.80" y="427.50" font-size="8" font-weight="bold" text-anchor="middle" fill="#1a1a1a" >28</text>
<text x="479.65" y="440.70" font-size="8.85" font-weight="bold" text-anchor="middle" fill="#1a1a1a" >Days post tumor implantation</text>
<text transform="translate(360.40,358.50) rotate(-90)" font-size="8.85" font-weight="bold" text-anchor="middle" fill="#1a1a1a"># of cells/uL</text>
<text transform="translate(448.40,311.00) rotate(-90)" font-size="6.4" text-anchor="start" fill="#222">IL-7</text>
<line x1="446.20" y1="311.60" x2="446.20" y2="316.40" stroke="#111" stroke-width="1.0" />
<path d="M444.40,315.90 L448.00,315.90 L446.20,318.90 Z" fill="#111"/>
<text transform="translate(462.50,311.00) rotate(-90)" font-size="6.4" text-anchor="start" fill="#222">IL-7</text>
<line x1="460.30" y1="311.60" x2="460.30" y2="316.40" stroke="#111" stroke-width="1.0" />
<path d="M458.50,315.90 L462.10,315.90 L460.30,318.90 Z" fill="#111"/>
<line x1="480.60" y1="300.50" x2="480.60" y2="413.20" stroke="#111" stroke-width="1.0" stroke-dasharray="3.4,1.7"/>
<text transform="translate(485.20,311.60) rotate(-50)" font-size="7.0" text-anchor="start" fill="#333">ZIKV</text>
<clipPath id="cE"><rect x="397.0" y="290" width="185.5" height="53.60000000000002"/><rect x="397.0" y="353.0" width="185.5" height="77.0"/></clipPath>
<g clip-path="url(#cE)">
<path d="M412.10,407.40 V410.40 M409.80,407.40 H414.40 M409.80,410.40 H414.40" stroke="#ef6b63" stroke-width="0.8" fill="none"/>
<path d="M445.40,411.00 V412.60 M443.10,411.00 H447.70 M443.10,412.60 H447.70" stroke="#ef6b63" stroke-width="0.8" fill="none"/>
<path d="M478.00,327.50 V329.50 M475.70,327.50 H480.30 M475.70,329.50 H480.30" stroke="#ef6b63" stroke-width="0.8" fill="none"/>
<path d="M511.30,394.90 V397.90 M509.00,394.90 H513.60 M509.00,397.90 H513.60" stroke="#ef6b63" stroke-width="0.8" fill="none"/>
<path d="M544.60,397.90 V402.90 M542.30,397.90 H546.90 M542.30,402.90 H546.90" stroke="#ef6b63" stroke-width="0.8" fill="none"/>
<path d="M418.20,407.20 V410.20 M415.90,407.20 H420.50 M415.90,410.20 H420.50" stroke="#ef6b63" stroke-width="0.8" fill="none"/>
<path d="M450.60,410.00 V412.00 M448.30,410.00 H452.90 M448.30,412.00 H452.90" stroke="#ef6b63" stroke-width="0.8" fill="none"/>
<path d="M485.00,318.20 V337.20 M482.70,318.20 H487.30 M482.70,337.20 H487.30" stroke="#ef6b63" stroke-width="0.8" fill="none"/>
<path d="M518.30,358.60 V385.60 M516.00,358.60 H520.60 M516.00,385.60 H520.60" stroke="#ef6b63" stroke-width="0.8" fill="none"/>
<path d="M551.50,395.70 V406.30 M549.20,395.70 H553.80 M549.20,406.30 H553.80" stroke="#ef6b63" stroke-width="0.8" fill="none"/>
<path d="M408.20,409.10 V411.10 M405.90,409.10 H410.50 M405.90,411.10 H410.50" stroke="#111" stroke-width="0.8" fill="none"/>
<path d="M442.20,410.70 V412.30 M439.90,410.70 H444.50 M439.90,412.30 H444.50" stroke="#111" stroke-width="0.8" fill="none"/>
<path d="M474.90,411.00 V412.00 M472.60,411.00 H477.20 M472.60,412.00 H477.20" stroke="#111" stroke-width="0.8" fill="none"/>
<path d="M508.20,407.60 V410.00 M505.90,407.60 H510.50 M505.90,410.00 H510.50" stroke="#111" stroke-width="0.8" fill="none"/>
<path d="M541.10,405.10 V409.10 M538.80,405.10 H543.40 M538.80,409.10 H543.40" stroke="#111" stroke-width="0.8" fill="none"/>
<path d="M415.20,408.10 V409.30 M412.90,408.10 H417.50 M412.90,409.30 H417.50" stroke="#111" stroke-width="0.8" fill="none"/>
<path d="M448.00,411.30 V412.30 M445.70,411.30 H450.30 M445.70,412.30 H450.30" stroke="#111" stroke-width="0.8" fill="none"/>
<path d="M481.40,411.00 V412.00 M479.10,411.00 H483.70 M479.10,412.00 H483.70" stroke="#111" stroke-width="0.8" fill="none"/>
<path d="M514.80,405.90 V407.90 M512.50,405.90 H517.10 M512.50,407.90 H517.10" stroke="#111" stroke-width="0.8" fill="none"/>
<path d="M548.10,404.10 V406.50 M545.80,404.10 H550.40 M545.80,406.50 H550.40" stroke="#111" stroke-width="0.8" fill="none"/>
<path d="M418.20,408.70 L450.60,411.00 L485.00,327.70 L518.30,372.10 L551.50,401.00" fill="none" stroke="#e8302a" stroke-width="1.2" stroke-dasharray="3.8,1.6"/>
<path d="M412.10,408.90 L445.40,411.80 L478.00,328.50 L511.30,396.40 L544.60,400.40" fill="none" stroke="#e8302a" stroke-width="1.2"/>
<path d="M408.20,410.10 L442.20,411.50 L474.90,411.50 L508.20,408.80 L541.10,407.10" fill="none" stroke="#111" stroke-width="1.2" stroke-dasharray="3.8,1.6"/>
<path d="M415.20,408.70 L448.00,411.80 L481.40,411.50 L514.80,406.90 L548.10,405.30" fill="none" stroke="#111" stroke-width="1.2"/>
</g>
<circle cx="418.20" cy="408.70" r="2.3" fill="none" stroke="#e8302a" stroke-width="1.0"/>
<circle cx="450.60" cy="411.00" r="2.3" fill="none" stroke="#e8302a" stroke-width="1.0"/>
<circle cx="485.00" cy="327.70" r="2.3" fill="none" stroke="#e8302a" stroke-width="1.0"/>
<circle cx="518.30" cy="372.10" r="2.3" fill="none" stroke="#e8302a" stroke-width="1.0"/>
<circle cx="551.50" cy="401.00" r="2.3" fill="none" stroke="#e8302a" stroke-width="1.0"/>
<circle cx="412.10" cy="408.90" r="2.7" fill="#e8302a"/>
<circle cx="445.40" cy="411.80" r="2.7" fill="#e8302a"/>
<circle cx="478.00" cy="328.50" r="2.7" fill="#e8302a"/>
<circle cx="511.30" cy="396.40" r="2.7" fill="#e8302a"/>
<circle cx="544.60" cy="400.40" r="2.7" fill="#e8302a"/>
<circle cx="408.20" cy="410.10" r="2.3" fill="none" stroke="#111" stroke-width="1.0"/>
<circle cx="442.20" cy="411.50" r="2.3" fill="none" stroke="#111" stroke-width="1.0"/>
<circle cx="474.90" cy="411.50" r="2.3" fill="none" stroke="#111" stroke-width="1.0"/>
<circle cx="508.20" cy="408.80" r="2.3" fill="none" stroke="#111" stroke-width="1.0"/>
<circle cx="541.10" cy="407.10" r="2.3" fill="none" stroke="#111" stroke-width="1.0"/>
<circle cx="415.20" cy="408.70" r="2.7" fill="#111"/>
<circle cx="448.00" cy="411.80" r="2.7" fill="#111"/>
<circle cx="481.40" cy="411.50" r="2.7" fill="#111"/>
<circle cx="514.80" cy="406.90" r="2.7" fill="#111"/>
<circle cx="548.10" cy="405.30" r="2.7" fill="#111"/>
<text x="487.90" y="327.40" font-size="11.8" letter-spacing="0.8" fill="#1a1a1a">***</text>
<text x="521.40" y="371.70" font-size="11.8" letter-spacing="0.8" fill="#1a1a1a">*</text>
<line x1="570.00" y1="310.40" x2="583.00" y2="310.40" stroke="#111" stroke-width="1.1" />
<circle cx="576.50" cy="310.40" r="2.7" fill="#111"/>
<text x="588.60" y="313.60" font-size="9" text-anchor="start" fill="#1a1a1a" >PBS+diluent (n=5)</text>
<line x1="570.00" y1="325.90" x2="583.00" y2="325.90" stroke="#111" stroke-width="1.1" stroke-dasharray="3.8,1.6"/>
<circle cx="576.50" cy="325.90" r="2.3" fill="none" stroke="#111" stroke-width="1.0"/>
<text x="588.60" y="329.10" font-size="9" text-anchor="start" fill="#1a1a1a" >ZIKV+diluent (n=5)</text>
<line x1="570.00" y1="341.40" x2="583.00" y2="341.40" stroke="#e8302a" stroke-width="1.1" />
<circle cx="576.50" cy="341.40" r="2.7" fill="#e8302a"/>
<text x="588.60" y="344.60" font-size="9" text-anchor="start" fill="#1a1a1a" >PBS+IL-7 (n=5)</text>
<line x1="570.00" y1="357.00" x2="583.00" y2="357.00" stroke="#e8302a" stroke-width="1.1" stroke-dasharray="3.8,1.6"/>
<circle cx="576.50" cy="357.00" r="2.3" fill="none" stroke="#e8302a" stroke-width="1.0"/>
<text x="588.60" y="360.20" font-size="9" text-anchor="start" fill="#1a1a1a" >ZIKV+IL-7 (n=6)</text>
<text x="67.80" y="472.30" font-size="10.4" font-weight="bold" fill="#1a1a1a">Overall survival - CT2A</text>
<line x1="41.50" y1="487.70" x2="41.50" y2="598.30" stroke="#2a2a2a" stroke-width="1.3" />
<line x1="36.70" y1="598.30" x2="41.50" y2="598.30" stroke="#2a2a2a" stroke-width="1.2" />
<text x="34.70" y="601.20" font-size="8" font-weight="bold" text-anchor="end" fill="#1a1a1a" >0</text>
<line x1="36.70" y1="578.20" x2="41.50" y2="578.20" stroke="#2a2a2a" stroke-width="1.2" />
<text x="34.70" y="581.10" font-size="8" font-weight="bold" text-anchor="end" fill="#1a1a1a" >20</text>
<line x1="36.70" y1="558.10" x2="41.50" y2="558.10" stroke="#2a2a2a" stroke-width="1.2" />
<text x="34.70" y="561.00" font-size="8" font-weight="bold" text-anchor="end" fill="#1a1a1a" >40</text>
<line x1="36.70" y1="538.00" x2="41.50" y2="538.00" stroke="#2a2a2a" stroke-width="1.2" />
<text x="34.70" y="540.90" font-size="8" font-weight="bold" text-anchor="end" fill="#1a1a1a" >60</text>
<line x1="36.70" y1="517.90" x2="41.50" y2="517.90" stroke="#2a2a2a" stroke-width="1.2" />
<text x="34.70" y="520.80" font-size="8" font-weight="bold" text-anchor="end" fill="#1a1a1a" >80</text>
<line x1="36.70" y1="497.80" x2="41.50" y2="497.80" stroke="#2a2a2a" stroke-width="1.2" />
<text x="34.70" y="500.70" font-size="8" font-weight="bold" text-anchor="end" fill="#1a1a1a" >100</text>
<line x1="40.85" y1="598.30" x2="208.60" y2="598.30" stroke="#2a2a2a" stroke-width="1.3" />
<line x1="41.50" y1="598.30" x2="41.50" y2="602.30" stroke="#2a2a2a" stroke-width="1.2" />
<text x="41.50" y="612.80" font-size="8" font-weight="bold" text-anchor="middle" fill="#1a1a1a" >0</text>
<line x1="60.00" y1="598.30" x2="60.00" y2="602.30" stroke="#2a2a2a" stroke-width="1.2" />
<text x="60.00" y="612.80" font-size="8" font-weight="bold" text-anchor="middle" fill="#1a1a1a" >10</text>
<line x1="78.50" y1="598.30" x2="78.50" y2="602.30" stroke="#2a2a2a" stroke-width="1.2" />
<text x="78.50" y="612.80" font-size="8" font-weight="bold" text-anchor="middle" fill="#1a1a1a" >20</text>
<line x1="97.00" y1="598.30" x2="97.00" y2="602.30" stroke="#2a2a2a" stroke-width="1.2" />
<text x="97.00" y="612.80" font-size="8" font-weight="bold" text-anchor="middle" fill="#1a1a1a" >30</text>
<line x1="115.50" y1="598.30" x2="115.50" y2="602.30" stroke="#2a2a2a" stroke-width="1.2" />
<text x="115.50" y="612.80" font-size="8" font-weight="bold" text-anchor="middle" fill="#1a1a1a" >40</text>
<line x1="134.00" y1="598.30" x2="134.00" y2="602.30" stroke="#2a2a2a" stroke-width="1.2" />
<text x="134.00" y="612.80" font-size="8" font-weight="bold" text-anchor="middle" fill="#1a1a1a" >50</text>
<line x1="152.50" y1="598.30" x2="152.50" y2="602.30" stroke="#2a2a2a" stroke-width="1.2" />
<text x="152.50" y="612.80" font-size="8" font-weight="bold" text-anchor="middle" fill="#1a1a1a" >60</text>
<line x1="171.00" y1="598.30" x2="171.00" y2="602.30" stroke="#2a2a2a" stroke-width="1.2" />
<text x="171.00" y="612.80" font-size="8" font-weight="bold" text-anchor="middle" fill="#1a1a1a" >70</text>
<line x1="189.50" y1="598.30" x2="189.50" y2="602.30" stroke="#2a2a2a" stroke-width="1.2" />
<text x="189.50" y="612.80" font-size="8" font-weight="bold" text-anchor="middle" fill="#1a1a1a" >80</text>
<line x1="208.00" y1="598.30" x2="208.00" y2="602.30" stroke="#2a2a2a" stroke-width="1.2" />
<text x="208.00" y="612.80" font-size="8" font-weight="bold" text-anchor="middle" fill="#1a1a1a" >90</text>
<text x="124.80" y="625.60" font-size="8.85" font-weight="bold" text-anchor="middle" fill="#1a1a1a" >Days post tumor implantation</text>
<text transform="translate(16.20,542.70) rotate(-90)" font-size="8.85" font-weight="bold" text-anchor="middle" fill="#1a1a1a">Survival (%)</text>
<line x1="68.30" y1="484.80" x2="68.30" y2="598.30" stroke="#222" stroke-width="1.0" stroke-dasharray="3.4,2.2"/>
<text transform="translate(76.00,516.40) rotate(-90)" font-size="6.8" text-anchor="start" fill="#2a2a2a">ZIKV</text>
<text transform="translate(56.15,488.80) rotate(-90)" font-size="6.5" text-anchor="start" fill="#2a2a2a">IL-7</text>
<line x1="54.45" y1="489.30" x2="54.45" y2="494.50" stroke="#111" stroke-width="1.0" />
<path d="M52.75,494.20 L56.15,494.20 L54.45,497.20 Z" fill="#111"/>
<text transform="translate(61.70,488.80) rotate(-90)" font-size="6.5" text-anchor="start" fill="#2a2a2a">IL-7</text>
<line x1="60.00" y1="489.30" x2="60.00" y2="494.50" stroke="#111" stroke-width="1.0" />
<path d="M58.30,494.20 L61.70,494.20 L60.00,497.20 Z" fill="#111"/>
<path d="M41.50,497.80 H85.53 V511.17 H96.26 V517.90 H105.51 V531.27 H111.61 V538.00 H112.91 V544.73 H114.20 V551.37 H124.01 V558.10 H124.94 V564.83 H205.22" fill="none" stroke="#0d0d0d" stroke-width="1.8" stroke-dasharray="6.3,2.0"/>
<path d="M41.50,497.80 H96.26 V505.84 H100.33 V509.86 H105.51 V513.88 H111.80 V517.90 H113.10 V521.92 H116.61 V529.96 H118.09 V533.98 H129.93 V538.00 H137.15 V542.02 H208.00" fill="none" stroke="#f52c12" stroke-width="1.8" stroke-dasharray="6.3,2.0"/>
<path d="M41.50,497.80 H94.41 V511.17 H98.48 V517.90 H102.00 V524.63 H104.22 V531.27 H105.51 V538.00 H109.58 V544.73 H113.65 V551.37 H114.76 V564.83 H124.56 V584.93 H208.00" fill="none" stroke="#f52c12" stroke-width="1.8" />
<path d="M41.50,497.80 H78.31 V504.53 H89.41 V511.17 H92.75 V517.90 H94.97 V531.27 H96.63 V538.00 H102.18 V551.37 H105.88 V578.20 H107.36 V584.93 H113.10 V591.57 H116.61 V598.30" fill="none" stroke="#0d0d0d" stroke-width="1.8" />
<line x1="213.9" y1="498.3" x2="226.4" y2="498.3" stroke="#0d0d0d" stroke-width="1.7" />
<text x="232.20" y="501.50" font-size="9" text-anchor="start" fill="#1a1a1a" >PBS+diluent (n=15)</text>
<line x1="213.9" y1="512.8" x2="226.4" y2="512.8" stroke="#0d0d0d" stroke-width="1.7" stroke-dasharray="4.8,2.9"/>
<text x="232.20" y="516.00" font-size="9" text-anchor="start" fill="#1a1a1a" >ZIKV+diluent (n=15)</text>
<line x1="213.9" y1="526.6" x2="226.4" y2="526.6" stroke="#f52c12" stroke-width="1.7" />
<text x="232.20" y="529.80" font-size="9" text-anchor="start" fill="#1a1a1a" >PBS+IL-7 (n=15)</text>
<line x1="213.9" y1="540.3" x2="226.4" y2="540.3" stroke="#f52c12" stroke-width="1.7" stroke-dasharray="4.8,2.9"/>
<text x="232.20" y="543.50" font-size="9" text-anchor="start" fill="#1a1a1a" >ZIKV+IL-7 (n=25)</text>
<path d="M313.60,489.10 H316.20 V547.20 H313.60" fill="none" stroke="#555" stroke-width="0.8"/>
<text transform="translate(313.98,519.20) rotate(90)" font-size="11.8" letter-spacing="0.8" text-anchor="middle" fill="#1a1a1a">****</text>
<path d="M323.10,489.10 H325.70 V530.60 H323.10" fill="none" stroke="#555" stroke-width="0.8"/>
<text transform="translate(322.88,511.90) rotate(90)" font-size="11.8" letter-spacing="0.8" text-anchor="middle" fill="#1a1a1a">**</text>
<path d="M332.40,489.10 H335.00 V514.00 H332.40" fill="none" stroke="#555" stroke-width="0.8"/>
<text transform="translate(332.08,502.90) rotate(90)" font-size="11.8" letter-spacing="0.8" text-anchor="middle" fill="#1a1a1a">**</text>
<path d="M332.40,522.80 H335.00 V547.20 H332.40" fill="none" stroke="#555" stroke-width="0.8"/>
<text transform="translate(332.08,536.00) rotate(90)" font-size="11.8" letter-spacing="0.8" text-anchor="middle" fill="#1a1a1a">**</text>
<text x="415.90" y="473.80" font-size="10.4" font-weight="bold" fill="#1a1a1a">Overall survival - SB28</text>
<line x1="388.80" y1="487.70" x2="388.80" y2="598.30" stroke="#2a2a2a" stroke-width="1.3" />
<line x1="384.00" y1="598.30" x2="388.80" y2="598.30" stroke="#2a2a2a" stroke-width="1.2" />
<text x="382.00" y="601.20" font-size="8" font-weight="bold" text-anchor="end" fill="#1a1a1a" >0</text>
<line x1="384.00" y1="578.20" x2="388.80" y2="578.20" stroke="#2a2a2a" stroke-width="1.2" />
<text x="382.00" y="581.10" font-size="8" font-weight="bold" text-anchor="end" fill="#1a1a1a" >20</text>
<line x1="384.00" y1="558.10" x2="388.80" y2="558.10" stroke="#2a2a2a" stroke-width="1.2" />
<text x="382.00" y="561.00" font-size="8" font-weight="bold" text-anchor="end" fill="#1a1a1a" >40</text>
<line x1="384.00" y1="538.00" x2="388.80" y2="538.00" stroke="#2a2a2a" stroke-width="1.2" />
<text x="382.00" y="540.90" font-size="8" font-weight="bold" text-anchor="end" fill="#1a1a1a" >60</text>
<line x1="384.00" y1="517.90" x2="388.80" y2="517.90" stroke="#2a2a2a" stroke-width="1.2" />
<text x="382.00" y="520.80" font-size="8" font-weight="bold" text-anchor="end" fill="#1a1a1a" >80</text>
<line x1="384.00" y1="497.80" x2="388.80" y2="497.80" stroke="#2a2a2a" stroke-width="1.2" />
<text x="382.00" y="500.70" font-size="8" font-weight="bold" text-anchor="end" fill="#1a1a1a" >100</text>
<line x1="388.15" y1="598.30" x2="556.44" y2="598.30" stroke="#2a2a2a" stroke-width="1.3" />
<line x1="388.80" y1="598.30" x2="388.80" y2="602.30" stroke="#2a2a2a" stroke-width="1.2" />
<text x="388.80" y="612.80" font-size="8" font-weight="bold" text-anchor="middle" fill="#1a1a1a" >0</text>
<line x1="407.36" y1="598.30" x2="407.36" y2="602.30" stroke="#2a2a2a" stroke-width="1.2" />
<text x="407.36" y="612.80" font-size="8" font-weight="bold" text-anchor="middle" fill="#1a1a1a" >10</text>
<line x1="425.92" y1="598.30" x2="425.92" y2="602.30" stroke="#2a2a2a" stroke-width="1.2" />
<text x="425.92" y="612.80" font-size="8" font-weight="bold" text-anchor="middle" fill="#1a1a1a" >20</text>
<line x1="444.48" y1="598.30" x2="444.48" y2="602.30" stroke="#2a2a2a" stroke-width="1.2" />
<text x="444.48" y="612.80" font-size="8" font-weight="bold" text-anchor="middle" fill="#1a1a1a" >30</text>
<line x1="463.04" y1="598.30" x2="463.04" y2="602.30" stroke="#2a2a2a" stroke-width="1.2" />
<text x="463.04" y="612.80" font-size="8" font-weight="bold" text-anchor="middle" fill="#1a1a1a" >40</text>
<line x1="481.60" y1="598.30" x2="481.60" y2="602.30" stroke="#2a2a2a" stroke-width="1.2" />
<text x="481.60" y="612.80" font-size="8" font-weight="bold" text-anchor="middle" fill="#1a1a1a" >50</text>
<line x1="500.16" y1="598.30" x2="500.16" y2="602.30" stroke="#2a2a2a" stroke-width="1.2" />
<text x="500.16" y="612.80" font-size="8" font-weight="bold" text-anchor="middle" fill="#1a1a1a" >60</text>
<line x1="518.72" y1="598.30" x2="518.72" y2="602.30" stroke="#2a2a2a" stroke-width="1.2" />
<text x="518.72" y="612.80" font-size="8" font-weight="bold" text-anchor="middle" fill="#1a1a1a" >70</text>
<line x1="537.28" y1="598.30" x2="537.28" y2="602.30" stroke="#2a2a2a" stroke-width="1.2" />
<text x="537.28" y="612.80" font-size="8" font-weight="bold" text-anchor="middle" fill="#1a1a1a" >80</text>
<line x1="555.84" y1="598.30" x2="555.84" y2="602.30" stroke="#2a2a2a" stroke-width="1.2" />
<text x="555.84" y="612.80" font-size="8" font-weight="bold" text-anchor="middle" fill="#1a1a1a" >90</text>
<text x="472.30" y="625.60" font-size="8.85" font-weight="bold" text-anchor="middle" fill="#1a1a1a" >Days post tumor implantation</text>
<text transform="translate(363.40,542.70) rotate(-90)" font-size="8.85" font-weight="bold" text-anchor="middle" fill="#1a1a1a">Survival (%)</text>
<line x1="415.68" y1="484.80" x2="415.68" y2="598.30" stroke="#222" stroke-width="1.0" stroke-dasharray="3.4,2.2"/>
<text transform="translate(423.38,516.40) rotate(-90)" font-size="6.8" text-anchor="start" fill="#2a2a2a">ZIKV</text>
<text transform="translate(403.49,488.80) rotate(-90)" font-size="6.5" text-anchor="start" fill="#2a2a2a">IL-7</text>
<line x1="401.79" y1="489.30" x2="401.79" y2="494.50" stroke="#111" stroke-width="1.0" />
<path d="M400.09,494.20 L403.49,494.20 L401.79,497.20 Z" fill="#111"/>
<text transform="translate(409.06,488.80) rotate(-90)" font-size="6.5" text-anchor="start" fill="#2a2a2a">IL-7</text>
<line x1="407.36" y1="489.30" x2="407.36" y2="494.50" stroke="#111" stroke-width="1.0" />
<path d="M405.66,494.20 L409.06,494.20 L407.36,497.20 Z" fill="#111"/>
<path d="M388.80,497.80 H438.91 V517.90 H444.29 V527.95 H446.71 V538.00 H449.12 V548.05 H450.98 V558.10 H453.02 V568.15 H457.29 V578.20 H472.32 V588.25 H475.66 V598.30" fill="none" stroke="#0d0d0d" stroke-width="1.8" stroke-dasharray="6.3,2.0"/>
<path d="M388.80,497.80 H442.25 V505.54 H455.24 V513.28 H459.14 V521.02 H460.81 V536.49 H475.66 V551.87 H484.01 V559.61 H556.77" fill="none" stroke="#f52c12" stroke-width="1.8" stroke-dasharray="6.3,2.0"/>
<path d="M388.80,497.80 H440.95 V520.11 H445.96 V531.27 H452.28 V542.42 H453.95 V553.68 H455.62 V564.83 H463.41 V575.99 H476.22 V587.14 H524.47 V598.30" fill="none" stroke="#f52c12" stroke-width="1.8" />
<path d="M388.80,497.80 H438.73 V520.11 H442.62 V531.27 H447.82 V553.68 H451.72 V575.99 H457.29 V587.14 H459.51 V598.30" fill="none" stroke="#0d0d0d" stroke-width="1.8" />
<line x1="557.3" y1="494.8" x2="570.6" y2="494.8" stroke="#0d0d0d" stroke-width="1.7" />
<text x="576.80" y="498.00" font-size="9" text-anchor="start" fill="#1a1a1a" >PBS+diluent (n=9)</text>
<line x1="557.3" y1="510.7" x2="570.6" y2="510.7" stroke="#0d0d0d" stroke-width="1.7" stroke-dasharray="4.8,2.9"/>
<text x="576.80" y="513.90" font-size="9" text-anchor="start" fill="#1a1a1a" >ZIKV+diluent (n=10)</text>
<line x1="557.3" y1="525.9" x2="570.6" y2="525.9" stroke="#f52c12" stroke-width="1.7" />
<text x="576.80" y="529.10" font-size="9" text-anchor="start" fill="#1a1a1a" >PBS+IL-7 (n=9)</text>
<line x1="557.3" y1="541.1" x2="570.6" y2="541.1" stroke="#f52c12" stroke-width="1.7" stroke-dasharray="4.8,2.9"/>
<text x="576.80" y="544.30" font-size="9" text-anchor="start" fill="#1a1a1a" >ZIKV+IL-7 (n=13)</text>
<path d="M658.10,489.30 H660.70 V546.30 H658.10" fill="none" stroke="#555" stroke-width="0.8"/>
<text transform="translate(659.19,518.30) rotate(90)" font-size="11.0" letter-spacing="0.8" text-anchor="middle" fill="#1a1a1a">****</text>
<path d="M667.60,505.50 H670.20 V546.80 H667.60" fill="none" stroke="#555" stroke-width="0.8"/>
<text transform="translate(668.49,527.10) rotate(90)" font-size="11.0" letter-spacing="0.8" text-anchor="middle" fill="#1a1a1a">***</text>
<path d="M677.10,522.10 H679.70 V546.30 H677.10" fill="none" stroke="#555" stroke-width="0.8"/>
<text transform="translate(677.29,535.10) rotate(90)" font-size="11.0" letter-spacing="0.8" text-anchor="middle" fill="#1a1a1a">*</text>
</svg>
</body></html>
